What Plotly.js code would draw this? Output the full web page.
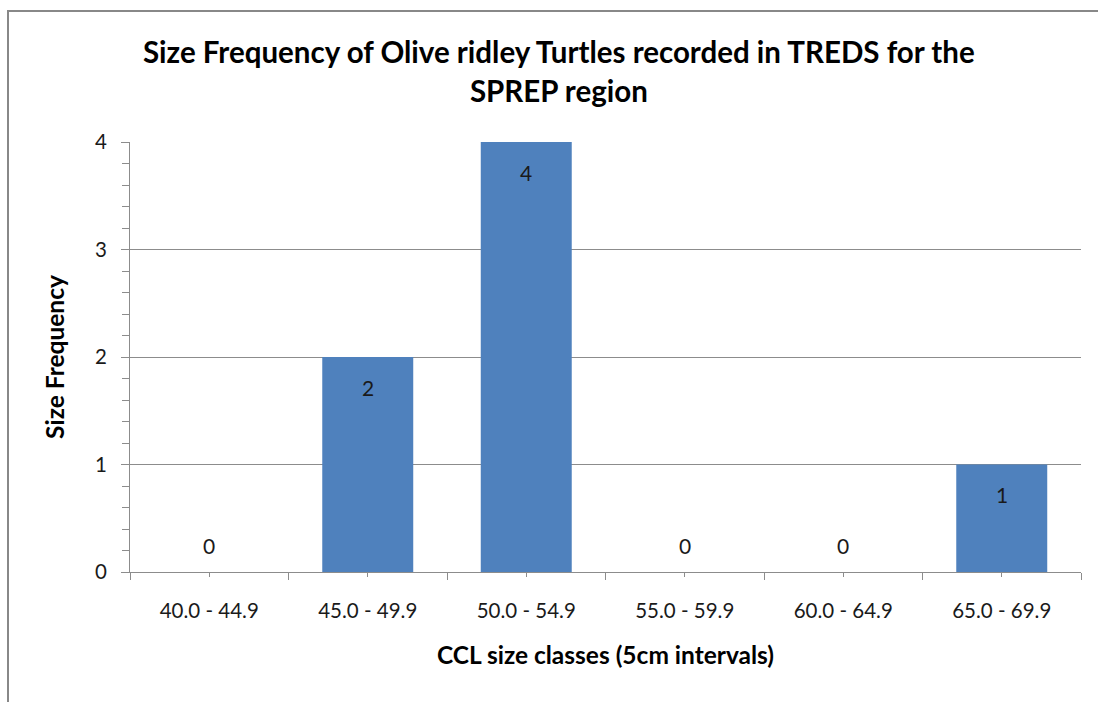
<!DOCTYPE html>
<html>
<head>
<meta charset="utf-8">
<script src="https://cdn.plot.ly/plotly-3.0.1.min.js"></script>
<style>html,body{margin:0;padding:0;background:#fff;}#chart{width:1098px;height:702px;}</style>
</head>
<body>
<div id="chart"></div>
<script>
const categories = ["40.0 - 44.9", "45.0 - 49.9", "50.0 - 54.9", "55.0 - 59.9", "60.0 - 64.9", "65.0 - 69.9"];
const frequencies = [0, 2, 4, 0, 0, 1];
const chartTitle = "Size Frequency of Olive ridley Turtles recorded in TREDS for the<br>SPREP region";
const xTitle = "CCL size classes (5cm intervals)";
const yTitle = "Size Frequency";

const positions = categories.map((c, i) => i);
const FONT = "Lato, 'Open Sans', sans-serif";
const GRID = "#8c8c8c";

const trace = {
  type: "bar",
  x: positions,
  y: frequencies,
  marker: {color: "#4F81BD", line: {width: 0}},
  hoverinfo: "skip"
};

const annotations = positions.map((p, i) => ({
  x: p, y: frequencies[i], xref: "x", yref: "y",
  text: String(frequencies[i]), showarrow: false,
  yanchor: "middle", yshift: frequencies[i] > 0 ? -30 : 27,
  font: {family: FONT, size: 21, color: "#1a1a1a"}
}));

const layout = {
  width: 1098, height: 702,
  margin: {l: 130, r: 17, t: 142, b: 130},
  paper_bgcolor: "#fff", plot_bgcolor: "#fff",
  showlegend: false,
  bargap: 0.426,
  title: {
    text: chartTitle,
    font: {family: FONT, size: 29.5, color: "#000", weight: "bold"},
    x: 0.509, xanchor: "center", y: 0.91, yanchor: "middle", yref: "container"
  },
  xaxis: {
    range: [-0.5, 5.5],
    tickvals: positions, ticktext: categories,
    ticks: "outside", ticklen: 4, tickcolor: GRID, tickwidth: 1,
    showline: true, linecolor: GRID, linewidth: 1,
    showgrid: false, zeroline: false,
    minor: {tick0: 0.5, dtick: 1, ticks: "outside", ticklen: 7, tickcolor: GRID, tickwidth: 1, showgrid: false},
    tickfont: {family: FONT, size: 20.5, color: "#1a1a1a"},
    ticklabelstandoff: 16,
    title: {text: xTitle, font: {family: FONT, size: 24.5, color: "#000", weight: "bold"}, standoff: 26},
    fixedrange: true
  },
  yaxis: {
    range: [0, 4], dtick: 1,
    ticks: "outside", ticklen: 8, tickcolor: GRID, tickwidth: 1,
    showline: true, linecolor: GRID, linewidth: 1,
    showgrid: true, gridcolor: GRID, gridwidth: 1,
    zeroline: false,
    minor: {dtick: 0.2, ticks: "outside", ticklen: 7, tickcolor: GRID, tickwidth: 1, showgrid: false},
    tickfont: {family: FONT, size: 20.5, color: "#1a1a1a"},
    ticklabelstandoff: 10,
    title: {text: yTitle, font: {family: FONT, size: 24.5, color: "#000", weight: "bold"}, standoff: 23},
    fixedrange: true
  },
  shapes: [{
    type: "rect", xref: "paper", yref: "paper",
    x0: (8 - 130) / 951, x1: (1104 - 130) / 951,
    y0: -(710 - 572) / 430, y1: 1 + (142 - 11) / 430,
    line: {color: "#888", width: 2}, fillcolor: "rgba(0,0,0,0)", layer: "below"
  }],
  annotations: annotations
};

Plotly.newPlot("chart", [trace], layout, {displayModeBar: false, staticPlot: true});
</script>
</body>
</html>
